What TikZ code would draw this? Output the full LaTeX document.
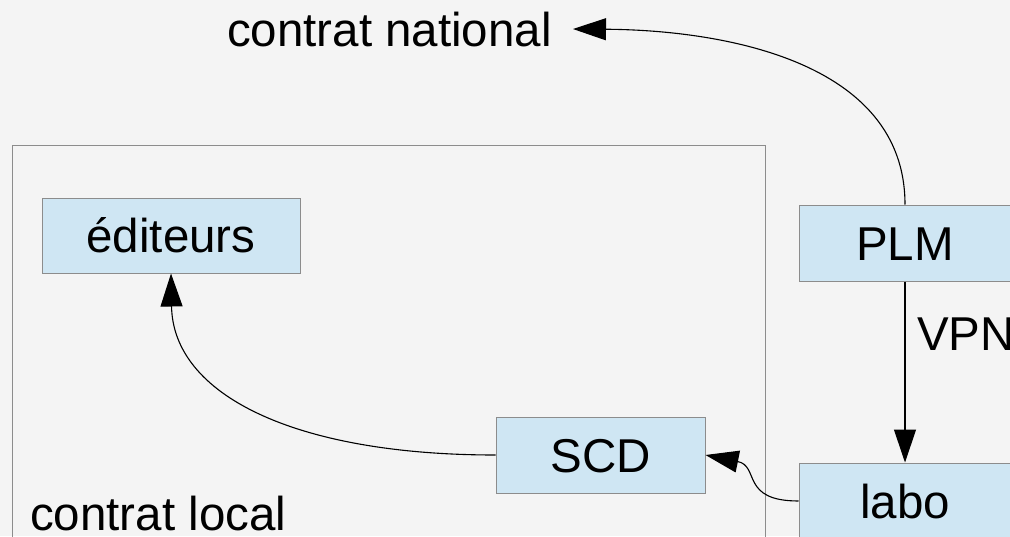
\documentclass[tikz,border=0pt]{standalone}
\usepackage{fontspec}
\setmainfont{Liberation Sans}
\usetikzlibrary{arrows.meta}
\definecolor{bgcol}{RGB}{244,244,244}
\definecolor{boxfill}{RGB}{207,230,243}
\definecolor{boxline}{RGB}{140,140,140}
\tikzset{
  big/.style={font=\fontsize{47.5}{57}\selectfont},
  box/.style={big, draw=boxline, line width=1pt, fill=boxfill, rectangle,
    text height=34pt, text depth=0pt, inner sep=0pt, anchor=center},
  lbl/.style={big, inner sep=0pt},
  conn/.style={line width=1.1pt, black, -{Triangle[length=33pt,width=22pt]}},
}
\begin{document}
\begin{tikzpicture}[x=1pt,y=-1pt]
\useasboundingbox (0,0) rectangle (1010,536);
\clip (0,0) rectangle (1010,536);
\fill[bgcol] (0,0) rectangle (1010,536);
\draw[boxline, line width=1pt] (12,600) -- (12,145) -- (765,145) -- (765,600);
\node[box, minimum width=258pt, minimum height=75pt] (edit) at (171,235.5) {éditeurs};
\node[box, minimum width=212pt, minimum height=76pt] (plm) at (905,243) {PLM};
\node[box, minimum width=209pt, minimum height=76pt] (scd) at (600.5,455) {SCD};
\node[box, minimum width=212pt, minimum height=76pt] (labo) at (905,501) {labo};
\node[lbl, anchor=base east, inner xsep=21pt] (nat) at (573,46) {contrat national};
\node[lbl, anchor=base west] (loc) at (30,530) {contrat local};
\node[lbl, anchor=base west] (vpn) at (917,350) {VPN};
\draw[conn] (plm.north) .. controls (905,60) and (720,30) .. (nat.east);
\draw[conn] (plm.south) -- (labo.north);
\draw[conn] (labo.west) .. controls (740,501) and (760,466) .. (scd.east);
\draw[conn] (scd.west) .. controls (295,455) and (173,395) .. (edit.south);
\end{tikzpicture}
\end{document}
